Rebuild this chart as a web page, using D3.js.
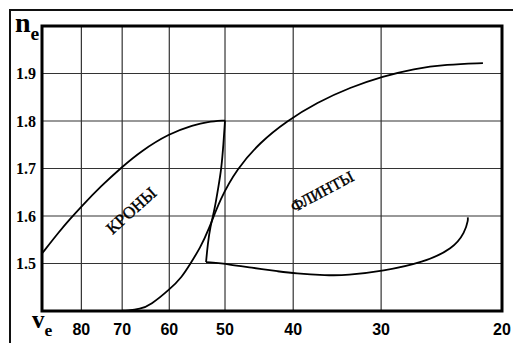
<!DOCTYPE html>
<html>
<head>
<meta charset="utf-8">
<script src="https://cdn.jsdelivr.net/npm/d3@7"></script>
<style>
  body { margin: 0; background: #fff; }
  svg { display: block; }
</style>
</head>
<body>
<div id="chart"></div>
<script>
// [v_e, n_e]
const crownTop = [
  [91, 1.521], [86, 1.5674], [82.9, 1.5947], [80, 1.62], [75, 1.6632], [70, 1.7036],
  [66, 1.7354], [60, 1.774], [55.4, 1.7916], [53, 1.7985], [50, 1.801],
];
const crownFlintSide = [
  [50, 1.801], [50.25, 1.752], [50.6, 1.699], [51.1, 1.661], [51.75, 1.612],
  [52.5, 1.576], [52.9, 1.541], [53.2, 1.503],
];
const flintBottom = [
  [53.2, 1.503], [49.15, 1.498], [46.05, 1.4916], [41.75, 1.483], [39.9, 1.479],
  [35.85, 1.475], [33.6, 1.475], [29.8, 1.484], [26.14, 1.502], [23.7, 1.531],
  [22.8, 1.566], [22.56, 1.592], [22.6, 1.597],
];
const crownFlintUpper = [
  [70, 1.401], [68.9, 1.401], [66, 1.404], [63.85, 1.412], [59.8, 1.4466], [57.6, 1.471],
  [56, 1.4994], [54.2, 1.534], [52.8, 1.569], [50.8, 1.636], [48.1, 1.699],
  [44.6, 1.755], [40.85, 1.8], [37, 1.839], [33.2, 1.871], [29.8, 1.894],
  [27, 1.91], [24.2, 1.919], [21.5, 1.922],
];
const xTicks = [80, 70, 60, 50, 40, 30, 20];
const yTicks = [1.5, 1.6, 1.7, 1.8, 1.9];
const regionLabels = [
  { text: "КРОНЫ", v: 68, n: 1.612, angle: -42, size: 17 },
  { text: "ФЛИНТЫ", v: 36.4, n: 1.652, angle: -28, size: 16 },
];

const width = 514;
const height = 343;
const plot = { left: 42, right: 502, top: 26, bottom: 311 };

const x = d3.scaleLog().domain([91, 20.2]).range([plot.left, plot.right]).clamp(true);
const y = d3.scaleLinear().domain([1.4, 2.0]).range([plot.bottom, plot.top]);

const svg = d3.select("#chart").append("svg")
  .attr("width", width)
  .attr("height", height)
  .attr("viewBox", [0, 0, width, height]);

// outer border, cut by the picture on the right and bottom
svg.append("path")
  .attr("d", `M10,${height + 2} V10 H${width - 1}`)
  .attr("fill", "none")
  .attr("stroke", "#111")
  .attr("stroke-width", 2);

const grid = svg.append("g").attr("stroke", "#333").attr("stroke-width", 1.2);
grid.selectAll(".gx")
  .data(xTicks)
  .join("line")
  .attr("class", "gx")
  .attr("x1", d => x(d)).attr("x2", d => x(d))
  .attr("y1", plot.top).attr("y2", plot.bottom);
grid.selectAll(".gy")
  .data(yTicks)
  .join("line")
  .attr("class", "gy")
  .attr("x1", plot.left).attr("x2", plot.right)
  .attr("y1", d => y(d)).attr("y2", d => y(d));

const line = d3.line()
  .x(d => x(d[0]))
  .y(d => y(d[1]))
  .curve(d3.curveBasis);

svg.append("g")
  .attr("fill", "none")
  .attr("stroke", "#000")
  .attr("stroke-width", 1.8)
  .attr("stroke-linejoin", "miter")
  .selectAll("path")
  .data([crownTop, crownFlintSide, flintBottom, crownFlintUpper])
  .join("path")
  .attr("d", line);

svg.append("rect")
  .attr("x", plot.left)
  .attr("y", plot.top)
  .attr("width", plot.right - plot.left)
  .attr("height", plot.bottom - plot.top)
  .attr("fill", "none")
  .attr("stroke", "#000")
  .attr("stroke-width", 3);

svg.append("g")
  .attr("font-family", "'Liberation Serif', 'Times New Roman', serif")
  .attr("font-weight", "bold")
  .attr("font-size", 16)
  .attr("text-anchor", "end")
  .selectAll("text")
  .data(yTicks)
  .join("text")
  .attr("x", plot.left - 6)
  .attr("y", d => y(d))
  .attr("dy", "0.35em")
  .text(d => d.toFixed(1));

svg.append("g")
  .attr("font-family", "'Liberation Sans', Arial, sans-serif")
  .attr("font-weight", "bold")
  .attr("font-size", 16)
  .attr("text-anchor", "middle")
  .selectAll("text")
  .data(xTicks)
  .join("text")
  .attr("x", d => x(d))
  .attr("y", 335)
  .text(d => d);

const axisTitle = (label, px, py, size) => {
  const t = svg.append("text")
    .attr("x", px)
    .attr("y", py)
    .attr("font-family", "'Liberation Serif', 'Times New Roman', serif")
    .attr("font-weight", "bold")
    .attr("font-size", size);
  t.append("tspan").text(label);
  t.append("tspan").attr("font-size", size * 0.7).attr("dy", size * 0.3).text("e");
};
axisTitle("n", 15, 32, 28);
axisTitle("v", 32, 328, 25);

svg.append("g")
  .attr("font-family", "'Liberation Serif', 'Times New Roman', serif")
  .attr("text-anchor", "middle")
  .attr("stroke", "#000")
  .attr("stroke-width", 0.4)
  .selectAll("text")
  .data(regionLabels)
  .join("text")
  .attr("font-size", d => d.size)
  .attr("transform", d => `translate(${x(d.v)},${y(d.n)}) rotate(${d.angle})`)
  .attr("dy", "0.35em")
  .text(d => d.text);
</script>
</body>
</html>
